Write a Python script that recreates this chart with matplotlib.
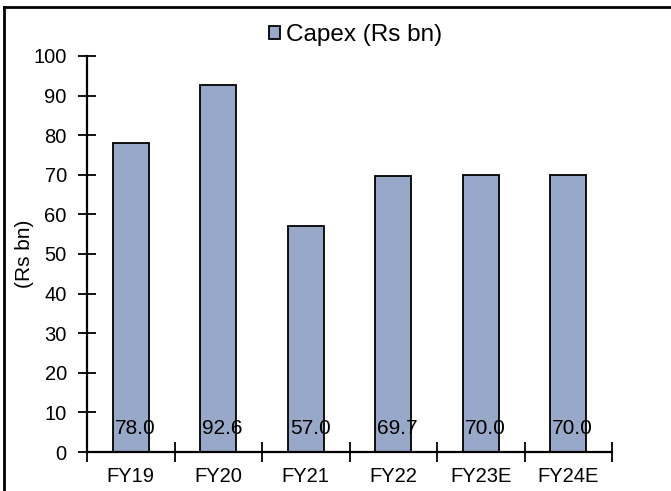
import matplotlib
matplotlib.use("Agg")
import matplotlib.pyplot as plt
from matplotlib.lines import Line2D
from matplotlib.ticker import FixedLocator

years = ["FY19", "FY20", "FY21", "FY22", "FY23E", "FY24E"]
capex = [78.0, 92.6, 57.0, 69.7, 70.0, 70.0]
yticks = list(range(0, 101, 10))

BAR = "#98a8c8"
plt.rcParams["font.family"] = ["Liberation Sans", "DejaVu Sans"]

fig = plt.figure(figsize=(6.71, 4.91), dpi=100)
ax = fig.add_axes([87 / 671, 1 - 452 / 491, 525 / 671, 396 / 491])

x = list(range(len(years)))
bars = ax.bar(x, capex, width=0.41, color=BAR, edgecolor="black", linewidth=1.3,
              label="Capex (Rs bn)", zorder=2)
for xi, v in zip(x, capex):
    ax.text(xi + 0.05, 6, f"{v:.1f}", ha="center", va="center", fontsize=15, zorder=3)

ax.set_xlim(-0.5, len(years) - 0.5)
ax.set_ylim(0, 100)
ax.set_yticks(yticks)
ax.set_xticks(x)
ax.set_xticklabels(years)
ax.xaxis.set_minor_locator(FixedLocator([i - 0.5 for i in range(len(years) + 1)]))
ax.tick_params(axis="x", which="major", length=0, pad=11, labelsize=14.5)
ax.tick_params(axis="x", which="minor", direction="inout", length=14, width=1.3)
ax.tick_params(axis="y", direction="inout", length=13, width=1.3, pad=8, labelsize=14.5)

for s in ("top", "right"):
    ax.spines[s].set_visible(False)
for s in ("left", "bottom"):
    ax.spines[s].set_linewidth(1.6)

ax.set_ylabel("(Rs bn)", fontsize=15)
ax.yaxis.set_label_coords(-0.1, 0.5)

fig.legend(handles=[bars], loc="center", bbox_to_anchor=(356 / 671, 1 - 35 / 491),
           frameon=False, fontsize=17.5, handlelength=0.45, handleheight=0.45,
           handletextpad=0.25, borderaxespad=0)

# frame lines of the exhibit box
fig.add_artist(Line2D([4 / 671, 1], [1 - 7 / 491] * 2, color="black", lw=2))
fig.add_artist(Line2D([4 / 671] * 2, [0, 1 - 7 / 491], color="black", lw=2))

fig.savefig("out.png", dpi=100)
